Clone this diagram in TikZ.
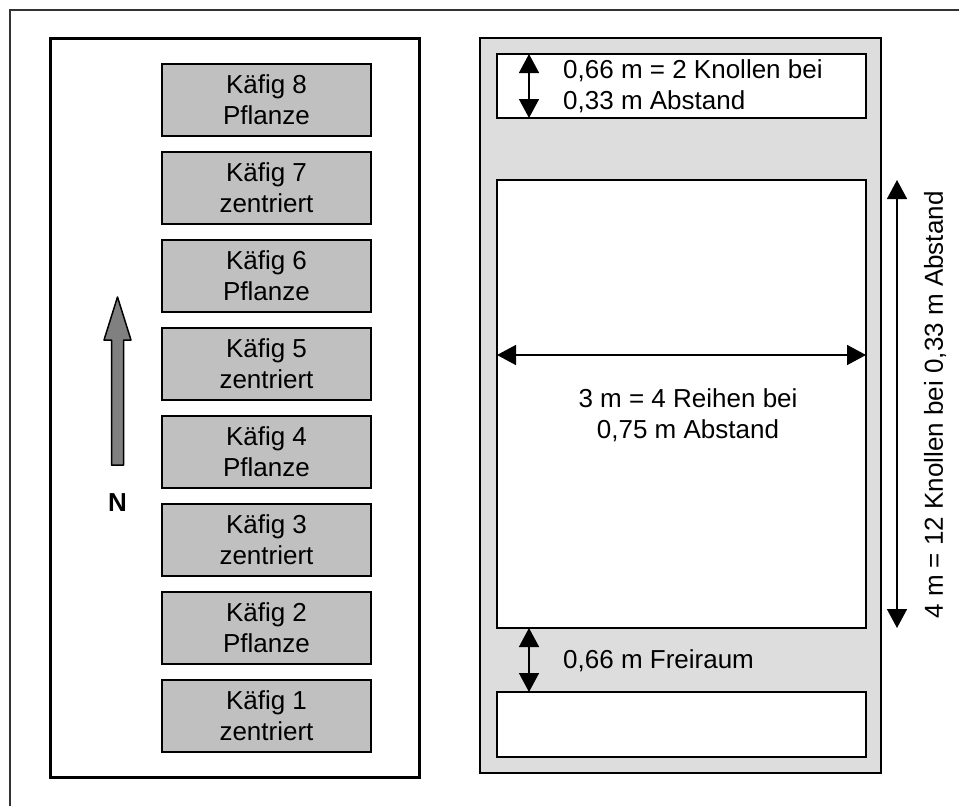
\documentclass[tikz,border=0pt]{standalone}
\usepackage{fontspec}
\setmainfont{Liberation Sans}
\usetikzlibrary{arrows.meta}
\definecolor{cagegray}{HTML}{C0C0C0}
\definecolor{plotgray}{HTML}{DDDDDD}
\definecolor{northgray}{HTML}{808080}
\begin{document}
\begin{tikzpicture}[x=1pt, y=-1pt, font=\fontsize{26}{31}\selectfont,
  cage/.style={draw, line width=2pt, fill=cagegray, minimum width=209pt, minimum height=72pt, align=center, inner sep=0pt, outer sep=0pt},
  bed/.style={draw, line width=1.5pt, fill=white, minimum width=369pt, inner sep=0pt, outer sep=0pt},
  dim/.style={line width=1.5pt, {Triangle[width=20pt,length=19pt]}-{Triangle[width=20pt,length=19pt]}}]
\useasboundingbox (0,0) rectangle (959,806);
\draw[line width=2pt, black!80] (10,806) -- (10,10) -- (959,10);
% left: cages
\node[draw, line width=3pt, minimum width=369pt, minimum height=739pt, inner sep=0pt] (cagefield) at (234.5,407.5) {};
\node[cage] (cage8) at (266.5,100) {Käfig 8\\Pflanze};
\node[cage] (cage7) at (266.5,188) {Käfig 7\\zentriert};
\node[cage] (cage6) at (266.5,276) {Käfig 6\\Pflanze};
\node[cage] (cage5) at (266.5,364) {Käfig 5\\zentriert};
\node[cage] (cage4) at (266.5,452) {Käfig 4\\Pflanze};
\node[cage] (cage3) at (266.5,540) {Käfig 3\\zentriert};
\node[cage] (cage2) at (266.5,628) {Käfig 2\\Pflanze};
\node[cage] (cage1) at (266.5,716) {Käfig 1\\zentriert};
\filldraw[fill=northgray, line width=1.5pt, line join=round] (111.5,465) -- (111.5,340) -- (104,340) -- (117.5,297) -- (131,340) -- (123.5,340) -- (123.5,465) -- cycle;
\node[font=\fontsize{26}{31}\selectfont\bfseries] (north) at (117.5,503) {N};
% right: plot
\node[draw, line width=2pt, fill=plotgray, minimum width=401pt, minimum height=735pt, inner sep=0pt] (plot) at (680.5,405.5) {};
\node[bed, minimum height=64pt] (topbed) at (681.5,86) {};
\node[bed, minimum height=448pt] (mainbed) at (681.5,404) {};
\node[bed, minimum height=65pt] (lowbed) at (681.5,724.5) {};
\draw[dim] ([xshift=-152.5pt]topbed.north) -- ([xshift=-152.5pt]topbed.south);
\draw[dim] ([xshift=-152.5pt]mainbed.south) -- ([xshift=-152.5pt]lowbed.north);
\draw[dim] ([yshift=49pt]mainbed.west) -- ([yshift=49pt]mainbed.east);
\draw[dim] ([xshift=31pt]mainbed.north east) -- ([xshift=31pt]mainbed.south east);
\node[anchor=west, align=left, inner sep=0pt] (toplabel) at (563,86) {0,66 m = 2 Knollen bei\\0,33 m Abstand};
\node[anchor=west, inner sep=0pt] (gaplabel) at (563,661) {0,66 m Freiraum};
\node[align=center] (widthlabel) at (688,415) {3 m = 4 Reihen bei\\0,75 m Abstand};
\node[rotate=90] (lengthlabel) at (935,405) {4 m = 12 Knollen bei 0,33 m Abstand};
\end{tikzpicture}
\end{document}
